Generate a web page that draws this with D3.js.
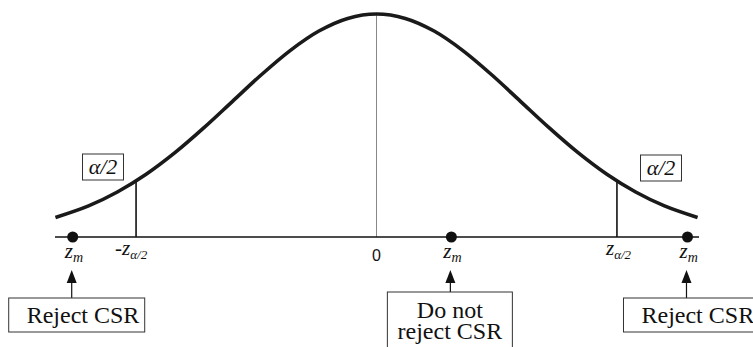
<!DOCTYPE html>
<html>
<head>
<meta charset="utf-8">
<script src="https://cdn.jsdelivr.net/npm/d3@7"></script>
<style>
  html, body { margin: 0; padding: 0; background: #fff; }
  svg { display: block; }
</style>
</head>
<body>
<svg id="chart" width="753" height="347"></svg>
<script>
// Standard normal density, sampled along z
const zGrid   = [-2.23, -2.0, -1.8, -1.6, -1.4, -1.2, -1.0, -0.8, -0.6, -0.4, -0.2, 0,
                  0.2, 0.4, 0.6, 0.8, 1.0, 1.2, 1.4, 1.6, 1.8, 2.0, 2.23];
const density = [0.0332, 0.0540, 0.0790, 0.1109, 0.1497, 0.1942, 0.2420, 0.2897, 0.3332, 0.3683, 0.3910, 0.3989,
                 0.3910, 0.3683, 0.3332, 0.2897, 0.2420, 0.1942, 0.1497, 0.1109, 0.0790, 0.0540, 0.0332];

// Critical values ±z(α/2) and the density height there
const criticalZ = [-1.67, 1.67];
const criticalDensity = [0.0989, 0.0989];
const criticalLabels = ["-z", "z"];
const criticalSub = "α/2";
const tailLabel = "α/2";

// Example test statistics z_m and the decision for each
const zmValues = [-2.11, 0.52, 2.16];
const decisions = [["Reject CSR"], ["Do not", "reject CSR"], ["Reject CSR"]];
const centerTick = "0";

const SERIF = '"Liberation Serif", "Times New Roman", serif';
const SANS = '"Liberation Sans", Arial, sans-serif';

const svg = d3.select("#chart");

const x = d3.scaleLinear().domain([-2.233, 2.233]).range([55, 698]);
const y = d3.scaleLinear().domain([0, 0.3989]).range([236, 14]);
const axisY = 237;

// center reference line at z = 0
svg.append("line")
  .attr("x1", x(0)).attr("x2", x(0))
  .attr("y1", y(density[zGrid.indexOf(0)])).attr("y2", axisY)
  .attr("stroke", "#888").attr("stroke-width", 1);

// horizontal axis
svg.append("line")
  .attr("x1", x.range()[0]).attr("x2", x.range()[1] + 1)
  .attr("y1", axisY).attr("y2", axisY)
  .attr("stroke", "#111").attr("stroke-width", 1.6);

// critical value lines
svg.selectAll("line.crit").data(criticalZ).join("line")
  .attr("class", "crit")
  .attr("x1", d => x(d)).attr("x2", d => x(d))
  .attr("y1", (d, i) => y(criticalDensity[i])).attr("y2", axisY)
  .attr("stroke", "#111").attr("stroke-width", 1.6);

// density curve
const pts = zGrid.map((z, i) => [z, density[i]]);
svg.append("path")
  .datum(pts)
  .attr("d", d3.line().x(d => x(d[0])).y(d => y(d[1])).curve(d3.curveCatmullRom))
  .attr("fill", "none").attr("stroke", "#1a1a1a").attr("stroke-width", 3.6)
  .attr("stroke-linecap", "butt");

// α/2 tail boxes
const tailBoxes = [{cx: 103, top: 154}, {cx: 661, top: 155}];
tailBoxes.forEach(b => {
  svg.append("rect").attr("x", b.cx - 20.5).attr("y", b.top).attr("width", 41).attr("height", 26)
    .attr("fill", "#fff").attr("stroke", "#333").attr("stroke-width", 1);
  svg.append("text").attr("x", b.cx).attr("y", b.top + 20)
    .attr("text-anchor", "middle")
    .style("font-family", SERIF).style("font-style", "italic").style("font-size", "22px")
    .attr("fill", "#111")
    .text(tailLabel);
});

// critical value labels
criticalZ.forEach((z, i) => {
  const t = svg.append("text")
    .attr("x", x(z) + (i === 0 ? -21 : -11)).attr("y", 255)
    .style("font-family", SERIF).style("font-style", "italic").attr("fill", "#111");
  t.append("tspan").style("font-size", "21px").text(criticalLabels[i]);
  t.append("tspan").style("font-size", "13px").attr("dy", 4).text(criticalSub);
});

// center tick label
svg.append("text").attr("x", x(0)).attr("y", 261)
  .attr("text-anchor", "middle")
  .style("font-family", SANS).style("font-size", "16px").attr("fill", "#111").text(centerTick);

// z_m points, labels, arrows and decision boxes
const boxSpec = [
  {w: 136, top: 298, h: 34, align: "start"},
  {w: 125, top: 292, h: 70, align: "middle"},
  {w: 140, top: 298, h: 34, align: "start"}
];
zmValues.forEach((z, i) => {
  const cx = x(z);
  svg.append("circle").attr("cx", cx).attr("cy", axisY).attr("r", 5.5).attr("fill", "#111");

  const t = svg.append("text").attr("x", cx - 8).attr("y", 258)
    .style("font-family", SERIF).style("font-style", "italic").attr("fill", "#111");
  t.append("tspan").style("font-size", "21px").text("z");
  t.append("tspan").style("font-size", "14px").attr("dy", 4).text("m");

  const b = boxSpec[i];
  const bx = cx - 64;
  const ax = cx - 1;
  // arrow shaft and head pointing up at the z_m label
  svg.append("line").attr("x1", ax).attr("x2", ax)
    .attr("y1", b.top).attr("y2", 280)
    .attr("stroke", "#111").attr("stroke-width", 1.2);
  svg.append("path")
    .attr("d", `M${ax},270 L${ax + 5},283 L${ax - 5},283 Z`)
    .attr("fill", "#111");

  svg.append("rect").attr("x", bx).attr("y", b.top).attr("width", b.w).attr("height", b.h)
    .attr("fill", "#fff").attr("stroke", "#333").attr("stroke-width", 1);

  // decision text, one text element with a tspan per line
  const tx = b.align === "middle" ? bx + b.w / 2 : bx + 18;
  const label = svg.append("text")
    .attr("x", tx)
    .attr("y", decisions[i].length > 1 ? 318 : 323)
    .attr("text-anchor", b.align)
    .style("font-family", SERIF).style("font-size", "24px").attr("fill", "#111");
  decisions[i].forEach((line, j) => {
    label.append("tspan").attr("x", tx).attr("dy", j === 0 ? 0 : 21).text(line);
  });
});
</script>
</body>
</html>
